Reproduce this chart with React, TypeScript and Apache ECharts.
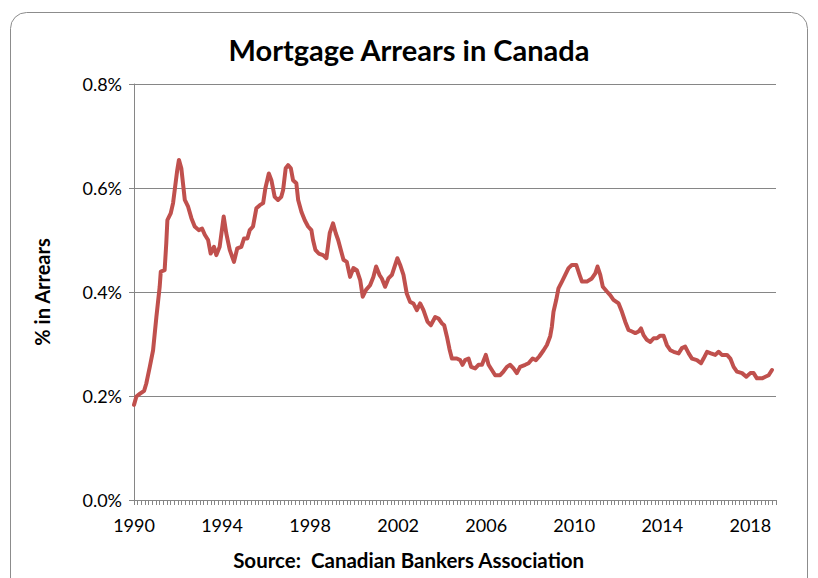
import React, { useEffect, useRef } from "react";
import * as echarts from "echarts";

// [months since Jan 1990, % of mortgages in arrears]
const arrears1990s: [number, number][] = [
  [0, 0.183], [1.3, 0.199], [3.1, 0.204], [5.5, 0.21], [6.7, 0.224], [8.6, 0.256], [10.4, 0.288],
  [12.2, 0.352], [14.0, 0.41], [14.6, 0.439], [16.7, 0.442], [17.6, 0.494], [18.2, 0.538], [20.0, 0.551],
  [21.3, 0.571], [22.2, 0.596], [23.6, 0.635], [24.5, 0.654], [25.8, 0.638], [26.7, 0.609], [27.7, 0.577],
  [29.5, 0.564], [31.3, 0.542], [33.1, 0.526], [35.3, 0.519], [37.1, 0.522], [38.6, 0.51], [40.4, 0.5],
  [41.8, 0.474], [43.6, 0.487], [44.9, 0.471], [46.7, 0.487], [48.9, 0.545], [50.3, 0.513], [52.2, 0.481],
  [54.5, 0.458], [56.3, 0.484], [58.5, 0.487], [60.0, 0.503], [61.8, 0.503], [63.1, 0.519], [64.9, 0.526],
  [66.7, 0.561], [68.6, 0.567], [70.4, 0.571], [71.6, 0.599], [73.5, 0.628], [74.9, 0.615], [76.7, 0.583],
  [78.5, 0.577], [80.3, 0.583], [81.3, 0.596], [82.7, 0.638], [84.0, 0.644], [85.5, 0.638], [86.7, 0.615],
  [88.5, 0.609], [89.5, 0.577], [91.3, 0.554], [93.1, 0.538], [94.9, 0.526], [96.7, 0.519], [97.6, 0.5],
  [98.9, 0.481], [100.7, 0.474], [103.1, 0.471], [104.9, 0.465], [106.7, 0.513], [108.5, 0.532],
  [110.0, 0.513], [111.3, 0.5], [114.2, 0.462], [116.0, 0.458], [117.8, 0.429],
];

const arrears2000s: [number, number][] = [
  [119.6, 0.446], [121.5, 0.442], [123.3, 0.423], [124.7, 0.391], [126.5, 0.404], [128.7, 0.413],
  [130.5, 0.429], [132.0, 0.449], [133.8, 0.433], [135.1, 0.426], [136.9, 0.41], [138.7, 0.426],
  [140.6, 0.433], [141.8, 0.446], [143.6, 0.465], [145.1, 0.452], [146.9, 0.433], [148.7, 0.397],
  [150.5, 0.381], [152.3, 0.378], [154.2, 0.365], [156.0, 0.378], [157.8, 0.365], [160.0, 0.343],
  [161.8, 0.336], [164.2, 0.352], [166.0, 0.349], [167.8, 0.34], [169.1, 0.336], [170.6, 0.314],
  [172.0, 0.29], [173.3, 0.272], [176.0, 0.272], [177.8, 0.269], [179.1, 0.26], [180.5, 0.269],
  [182.4, 0.272], [183.8, 0.256], [186.0, 0.253], [187.8, 0.26], [189.7, 0.26], [191.8, 0.279],
  [193.3, 0.26], [195.1, 0.25], [196.9, 0.24], [199.6, 0.24], [201.4, 0.247], [203.3, 0.256],
  [205.1, 0.26], [206.9, 0.253], [208.7, 0.244], [210.5, 0.256], [213.3, 0.26], [215.1, 0.263],
  [217.3, 0.272], [219.1, 0.269], [220.9, 0.276], [223.3, 0.288], [225.1, 0.298], [226.9, 0.315],
  [227.8, 0.333], [228.7, 0.362], [230.2, 0.385], [231.4, 0.407], [233.3, 0.42], [235.1, 0.433],
  [236.9, 0.446], [238.7, 0.452],
];

const arrears2010s: [number, number][] = [
  [241.1, 0.452], [242.9, 0.433], [244.2, 0.42], [246.9, 0.42], [249.6, 0.426], [251.5, 0.436],
  [252.7, 0.449], [254.2, 0.433], [255.6, 0.41], [257.8, 0.401], [259.6, 0.394], [261.4, 0.385],
  [264.2, 0.378], [266.0, 0.362], [267.8, 0.343], [269.6, 0.327], [271.5, 0.324], [273.3, 0.321],
  [275.1, 0.324], [276.4, 0.33], [277.8, 0.317], [279.6, 0.308], [281.5, 0.304], [283.3, 0.311],
  [285.1, 0.311], [286.9, 0.316], [288.7, 0.316], [290.5, 0.298], [292.4, 0.288], [294.2, 0.285],
  [296.9, 0.282], [298.7, 0.292], [300.5, 0.295], [302.4, 0.282], [304.2, 0.272], [306.9, 0.269],
  [309.1, 0.263], [310.5, 0.272], [312.4, 0.285], [314.5, 0.282], [316.9, 0.279], [318.7, 0.285],
  [320.5, 0.279], [323.3, 0.279], [325.1, 0.272], [326.9, 0.256], [328.7, 0.247], [331.5, 0.244],
  [333.8, 0.237], [336.0, 0.244], [337.8, 0.244], [339.6, 0.234], [342.4, 0.234], [344.2, 0.237],
  [346.0, 0.24], [347.8, 0.25],
];

const startYear = 1990;
const yearLabels = [1990, 1994, 1998, 2002, 2006, 2010, 2014, 2018];
const yTicks = [0, 0.2, 0.4, 0.6, 0.8];

const FONT = "Lato";

export default function App() {
  const ref = useRef<HTMLDivElement>(null);

  useEffect(() => {
    document.body.style.margin = "0";
    if (!ref.current) return;
    const chart = echarts.init(ref.current, undefined, { renderer: "svg" });
    const data = [...arrears1990s, ...arrears2000s, ...arrears2010s];
    chart.setOption({
      animation: false,
      backgroundColor: "#ffffff",
      title: {
        text: "Mortgage Arrears in Canada",
        left: "center",
        top: 30,
        textStyle: { fontFamily: FONT, fontWeight: "bold", fontSize: 29, color: "#000" },
      },
      graphic: [
        {
          type: "rect",
          shape: { x: 10.5, y: 12.5, width: 797, height: 620, r: 16 },
          style: { fill: "none", stroke: "#8c8c8c", lineWidth: 1 },
          silent: true,
        },
        {
          type: "text",
          left: "center",
          top: 549,
          style: {
            text: "Source:  Canadian Bankers Association",
            fontFamily: FONT,
            fontWeight: "bold",
            fontSize: 20.5,
            fill: "#000",
          },
        },
      ],
      grid: { left: 134, right: 42, top: 84, bottom: 78, containLabel: false },
      xAxis: {
        type: "value",
        min: 0,
        max: 350,
        interval: 2,
        axisLine: { show: true, lineStyle: { color: "#868686", width: 1 } },
        axisTick: { show: true, length: 5, lineStyle: { color: "#868686" } },
        splitLine: { show: false },
        axisLabel: {
          margin: 16,
          fontFamily: FONT,
          fontSize: 18,
          color: "#000",
          formatter: (v: number) => {
            const y = startYear + v / 12;
            return Number.isInteger(y) && yearLabels.includes(y) ? String(y) : "";
          },
        },
      },
      yAxis: {
        type: "value",
        min: yTicks[0],
        max: yTicks[yTicks.length - 1],
        interval: 0.2,
        name: "% in Arrears",
        nameLocation: "middle",
        nameRotate: 90,
        nameGap: 82,
        nameTextStyle: { fontFamily: FONT, fontWeight: "bold", fontSize: 20, color: "#000" },
        axisLine: { show: true, lineStyle: { color: "#868686", width: 1 } },
        axisTick: { show: true, length: 5, lineStyle: { color: "#868686" } },
        splitLine: { show: true, lineStyle: { color: "#868686", width: 1 } },
        axisLabel: {
          margin: 12,
          fontFamily: FONT,
          fontSize: 18,
          color: "#000",
          formatter: (v: number) => v.toFixed(1) + "%",
        },
      },
      series: [
        {
          type: "line",
          data,
          showSymbol: false,
          symbol: "none",
          lineStyle: { color: "#C0504D", width: 4, cap: "round", join: "round" },
          itemStyle: { color: "#C0504D" },
        },
      ],
    });
    return () => chart.dispose();
  }, []);

  return <div ref={ref} style={{ width: 818, height: 578 }} />;
}
